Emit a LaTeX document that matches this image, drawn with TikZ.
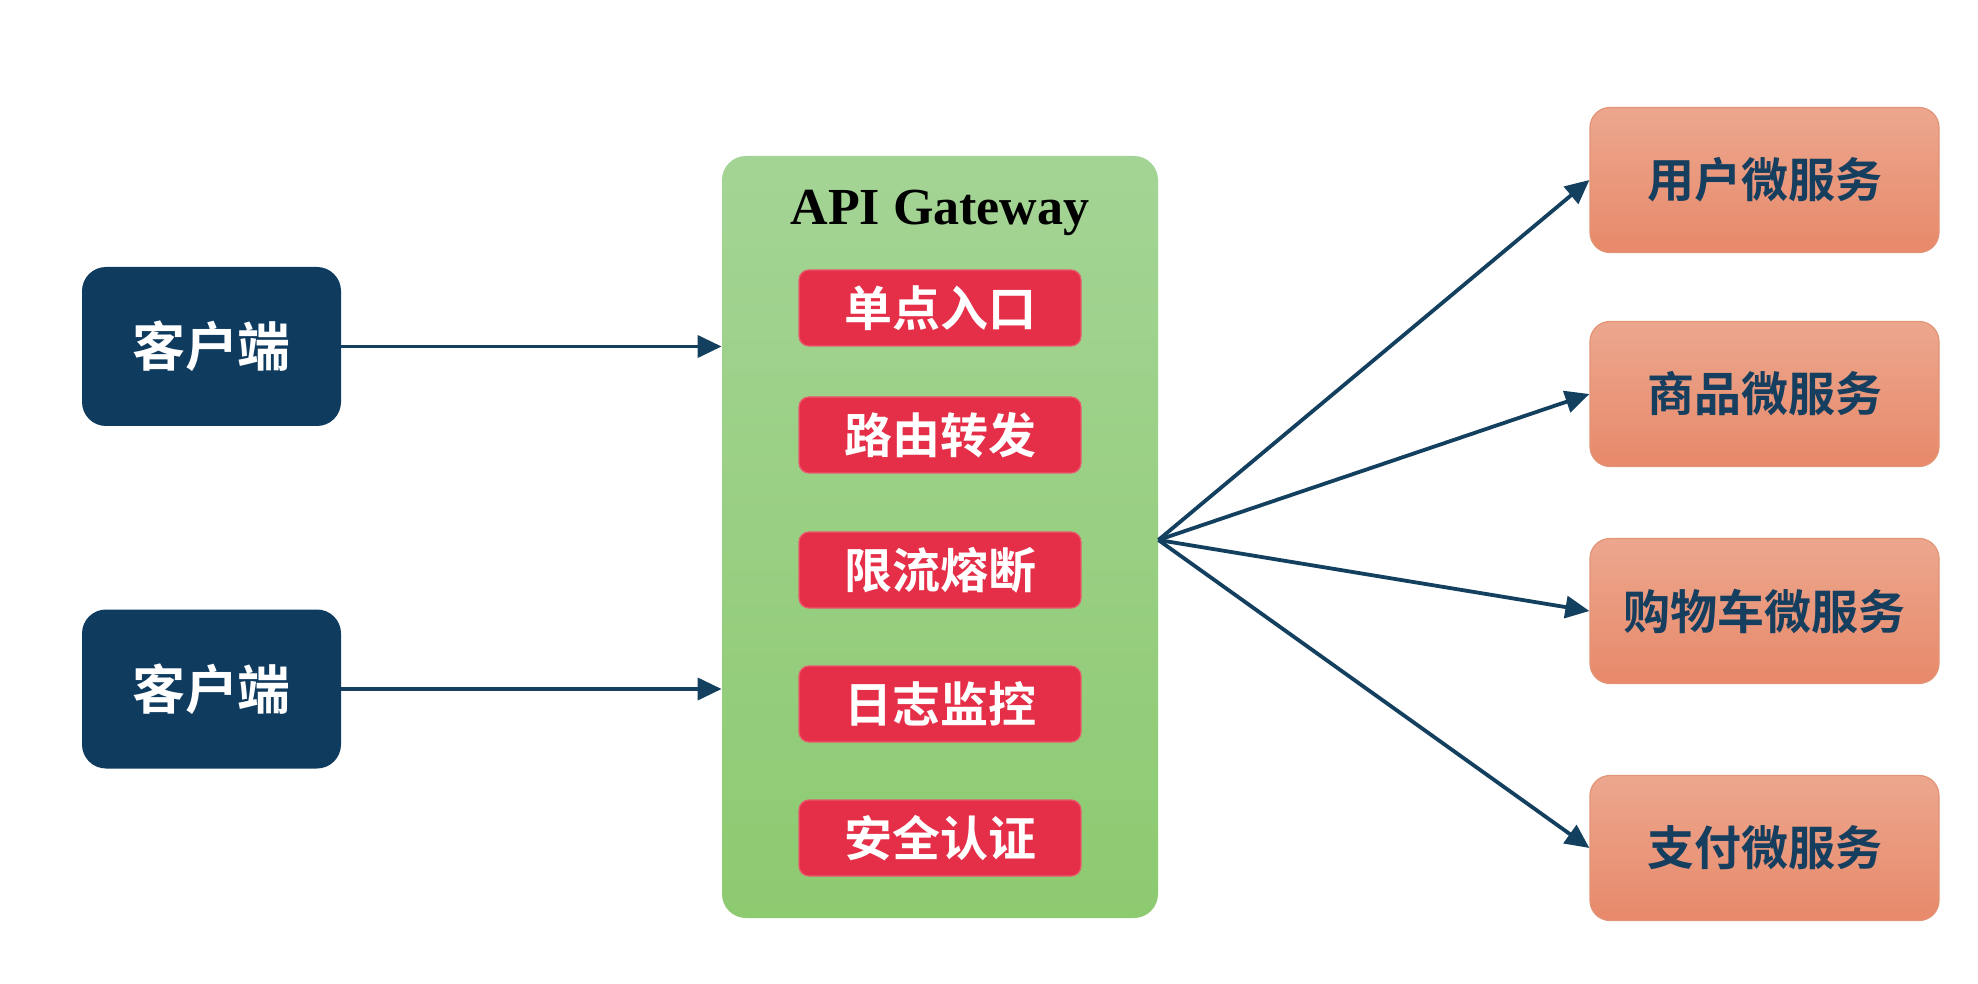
\documentclass[tikz,border=0pt]{standalone}
\usepackage{fontspec}
\setmainfont{Liberation Serif}
\newfontfamily\cjk{Noto Sans CJK SC}[BoldFont={* Bold}]
\usetikzlibrary{arrows.meta}
\definecolor{navy}{HTML}{0F3B5F}
\definecolor{arrowc}{HTML}{13405F}
\definecolor{gtop}{HTML}{A4D495}
\definecolor{gbot}{HTML}{8DCA70}
\definecolor{redf}{HTML}{E52F48}
\definecolor{stop}{HTML}{ECA78E}
\definecolor{sbot}{HTML}{E8896A}
\definecolor{sbord}{HTML}{E39476}
\definecolor{stext}{HTML}{163E5E}
\tikzset{
  client/.style={fill=navy, rounded corners=12pt, minimum width=129.5pt, minimum height=79.5pt, inner sep=0pt,
    text=white, font=\cjk\bfseries\fontsize{26.5pt}{30pt}\selectfont},
  gateway/.style={top color=gtop, bottom color=gbot, rounded corners=12pt, minimum width=218pt, minimum height=381pt, inner sep=0pt},
  feature/.style={fill=redf, draw=redf!80!white, line width=0.6pt, rounded corners=5pt, minimum width=141pt, minimum height=38pt, inner sep=0pt,
    text=white, font=\cjk\bfseries\fontsize{24pt}{28pt}\selectfont},
  service/.style={top color=stop, bottom color=sbot, draw=sbord, line width=0.6pt, rounded corners=10pt, minimum width=174.5pt, minimum height=72.5pt, inner sep=0pt,
    text=stext, font=\cjk\bfseries\fontsize{23.5pt}{27pt}\selectfont},
  conn/.style={draw=arrowc, line width=1.9pt, -{Triangle[length=12pt,width=11pt]}},
  title/.style={font=\bfseries\fontsize{26pt}{30pt}\selectfont, text=black}
}
\begin{document}
\begin{tikzpicture}[x=0.5pt,y=-0.5pt]
\useasboundingbox[fill=white] (0,0) rectangle (1978,984);
% clients
\node[client] (c1) at (211.5,346.5) {客户端};
\node[client] (c2) at (211.5,689) {客户端};
% gateway
\node[gateway] (gw) at (940,537) {};
\node[title] (gt) at (940,213) {API Gateway};
\node[feature] (f1) at (940,308) {单点入口};
\node[feature] (f2) at (940,435) {路由转发};
\node[feature] (f3) at (940,570) {限流熔断};
\node[feature] (f4) at (940,704) {日志监控};
\node[feature] (f5) at (940,838) {安全认证};
% services
\node[service] (s1) at (1764.5,180) {用户微服务};
\node[service] (s2) at (1764.5,394) {商品微服务};
\node[service] (s3) at (1764.5,611) {购物车微服务};
\node[service] (s4) at (1764.5,848) {支付微服务};
% connectors
\draw[conn] (c1.east) -- (c1.east -| gw.west);
\draw[conn] (c2.east) -- (c2.east -| gw.west);
\coordinate (hub) at ([yshift=-1.5pt]gw.east);
\draw[conn] (hub) -- (s1.west);
\draw[conn] (hub) -- (s2.west);
\draw[conn] (hub) -- (s3.west);
\draw[conn] (hub) -- (s4.west);
\end{tikzpicture}
\end{document}
